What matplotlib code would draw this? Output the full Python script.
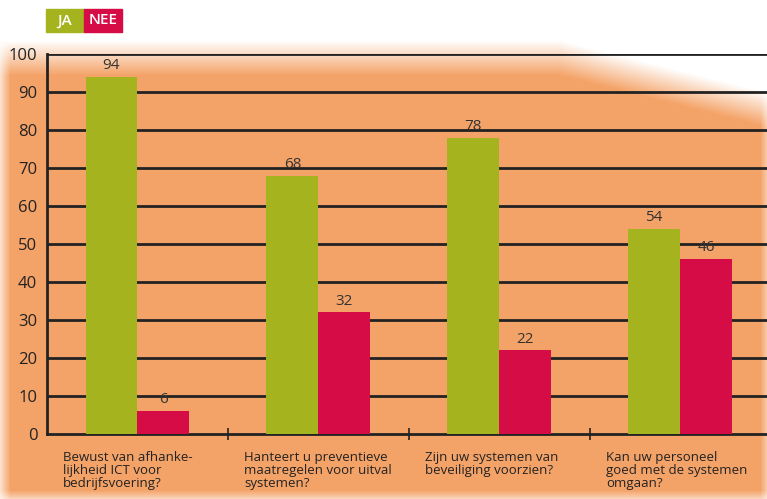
import numpy as np
import matplotlib.pyplot as plt
from matplotlib.patches import Rectangle

vragen = ["Bewust van afhanke-\nlijkheid ICT voor\nbedrijfsvoering?",
          "Hanteert u preventieve\nmaatregelen voor uitval\nsystemen?",
          "Zijn uw systemen van\nbeveiliging voorzien?",
          "Kan uw personeel\ngoed met de systemen\nomgaan?"]
ja = [94, 68, 78, 54]
nee = [6, 32, 22, 46]

groen = '#A5B41E'
rood = '#D50C45'
plt.rcParams['font.family'] = ['Open Sans', 'DejaVu Sans']

fig = plt.figure(figsize=(7.67, 4.99), dpi=100)

# oranje achtergrond met zachte randen
bg = fig.add_axes([0, 0, 1, 1])
bg.set_xlim(0, 767)
bg.set_ylim(499, 0)
bg.axis('off')
xx, yy = np.meshgrid(np.arange(767), np.arange(499))
top = 40 + np.clip(xx - 560, 0, None) * 0.25
def soft(d, w):
    return np.clip(d / w, 0, 1)
alpha = soft(yy - top, 35) * soft(xx + 5, 15) * soft(775 - xx, 15) * soft(505 - yy, 15)
img = np.zeros((499, 767, 4))
img[..., 0] = 0.96
img[..., 1] = 0.62
img[..., 2] = 0.38
img[..., 3] = alpha * 0.95
bg.imshow(img, extent=[0, 767, 499, 0], aspect='auto')

ax = fig.add_axes([47 / 767, 65 / 499, 720 / 767, 380 / 499])
ax.patch.set_alpha(0)
x = np.arange(len(ja)) + 0.5
w = 0.287
ax.bar(x - w / 2, ja, w, color=groen, zorder=3)
ax.bar(x + w / 2, nee, w, color=rood, zorder=3)
for xi, v in zip(x - w / 2, ja):
    ax.text(xi, v + 1.0, str(v), ha='center', va='bottom', fontsize=11, color='#333333')
for xi, v in zip(x + w / 2, nee):
    ax.text(xi, v + 1.0, str(v), ha='center', va='bottom', fontsize=11, color='#333333')

ax.set_xlim(0, 3.98)
ax.set_ylim(0, 100)
ax.set_yticks(range(0, 101, 10))
for t in range(10, 101, 10):
    ax.axhline(t, color='#222222', lw=2, zorder=2)
ax.tick_params(axis='y', length=0, labelsize=12, pad=7, labelcolor='#222222')
ax.set_xticks([1, 2, 3])
ax.set_xticklabels([])
ax.tick_params(axis='x', direction='inout', length=8, width=1.2, color='#222222')
for s in ['top', 'right']:
    ax.spines[s].set_visible(False)
for s in ['left', 'bottom']:
    ax.spines[s].set_linewidth(2)
    ax.spines[s].set_color('#222222')

for i, q in enumerate(vragen):
    ax.text(i + 0.09, -4.5, q, ha='left', va='top', fontsize=9.5, color='#222222',
            linespacing=1.0, clip_on=False)

# legenda
fig.patches.append(Rectangle((46 / 767, 1 - 32 / 499), 38 / 767, 23 / 499,
                             transform=fig.transFigure, color=groen))
fig.patches.append(Rectangle((84 / 767, 1 - 32 / 499), 38 / 767, 23 / 499,
                             transform=fig.transFigure, color=rood))
fig.text(65 / 767, 1 - 20.5 / 499, 'JA', color='white', fontsize=11, fontweight='semibold',
         ha='center', va='center')
fig.text(103 / 767, 1 - 20.5 / 499, 'NEE', color='white', fontsize=11, fontweight='semibold',
         ha='center', va='center')

fig.savefig('out.png', dpi=100)
